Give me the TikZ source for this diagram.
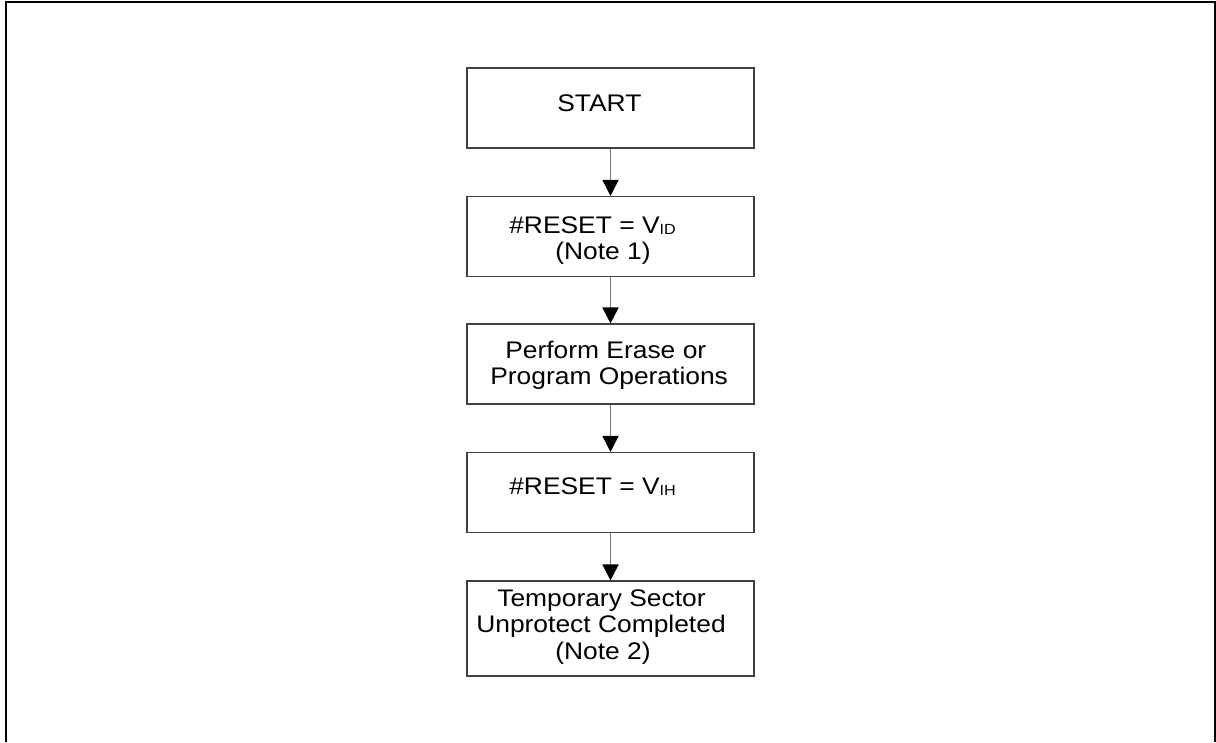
\documentclass[tikz,border=0pt]{standalone}
\usepackage{fontspec}
\usetikzlibrary{arrows.meta}
\newfontfamily\boxfont{Liberation Sans}[FakeStretch=1.1]
\newcommand{\subtxt}[1]{\raisebox{-1pt}{\fontsize{11}{11}\selectfont #1}}
\begin{document}
\begin{tikzpicture}[x=0.75pt,y=-0.75pt,
	box/.style={draw=black!75,line width=0.8pt,minimum width=215.25pt,minimum height=60pt,inner sep=0},
	txt/.style={inner sep=0,anchor=base west,font=\boxfont\fontsize{18}{19}\selectfont},
	arr/.style={draw=black!55,line width=1.2pt,-{Triangle[length=12pt,width=12pt,color=black]}}]
	\useasboundingbox (0,0) rectangle (1216,742);
	\draw[line width=1.5pt] (6,742) -- (6,2.5) -- (1215,2.5) -- (1215,742);
	\node[box] (start) at (610.5,108) {};
	\node[box] (rstId) at (610.5,236.5) {};
	\node[box] (perform) at (610.5,364) {};
	\node[box] (rstIh) at (610.5,492.5) {};
	\node[box,minimum height=71.25pt] (done) at (610.5,628.5) {};
		\node[txt] (startTxt) at (557,111) {START};
		\node[txt] (rstIdA) at (509,233) {\#RESET = V\subtxt{ID}};
		\node[txt] (rstIdB) at (555,259) {(Note 1)};
		\node[txt] (performA) at (505,358) {Perform Erase or};
		\node[txt] (performB) at (490,384) {Program Operations};
		\node[txt] (rstIhTxt) at (509,494) {\#RESET = V\subtxt{IH}};
		\node[txt] (doneA) at (497,606) {Temporary Sector};
		\node[txt] (doneB) at (476,632) {Unprotect Completed};
		\node[txt] (doneC) at (555,659) {(Note 2)};
	\draw[arr] (start.south) -- (rstId.north);
	\draw[arr] (rstId.south) -- (perform.north);
	\draw[arr] (perform.south) -- (rstIh.north);
	\draw[arr] (rstIh.south) -- (done.north);
\end{tikzpicture}
\end{document}
